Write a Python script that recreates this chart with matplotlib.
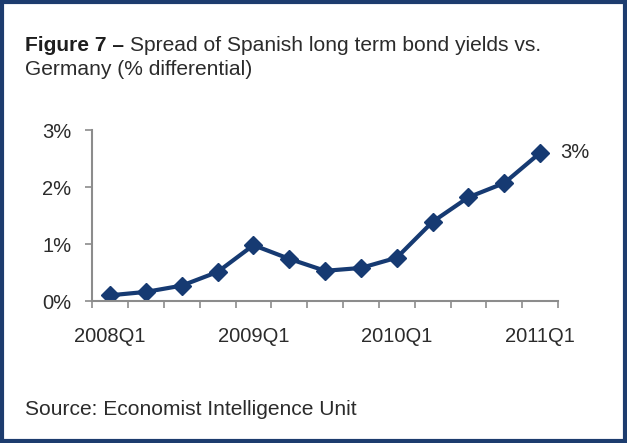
import numpy as np
from matplotlib import pyplot as plt
from matplotlib.patches import Rectangle

plt.rcParams['font.family'] = ['Liberation Sans', 'DejaVu Sans']

# Данные: спред доходности испанских облигаций к немецким, %
quarters = ['2008Q1', '2008Q2', '2008Q3', '2008Q4',
            '2009Q1', '2009Q2', '2009Q3', '2009Q4',
            '2010Q1', '2010Q2', '2010Q3', '2010Q4',
            '2011Q1']
spread = [0.10, 0.16, 0.27, 0.51, 0.98, 0.74, 0.53, 0.58,
          0.76, 1.39, 1.82, 2.07, 2.60]
shown_labels = ['2008Q1', '2009Q1', '2010Q1', '2011Q1']
y_ticks = [0, 1, 2, 3]

navy = '#163a72'
grey = '#8c8c8c'
text_col = '#2b2b2b'
fs = 14.5
fs_title = 15.1

fig = plt.figure(figsize=(6.27, 4.43), dpi=100)
ax = fig.add_axes([0.147, 0.3205, 0.743, 0.386])

x = np.arange(len(quarters))
ax.plot(x, spread, color=navy, lw=3, marker='D', ms=9, mec=navy, mfc=navy)

ax.set_xlim(-0.5, len(quarters) - 0.5)
ax.set_ylim(0, 3)
ax.set_yticks(y_ticks)
ax.set_yticklabels([f'{v}%' for v in y_ticks])

# Подписи только для первых кварталов каждого года
ax.set_xticks(x - 0.5, minor=False)
ax.set_xticks([len(quarters) - 0.5], minor=True)
ax.set_xticklabels([''] * len(quarters))
for q in shown_labels:
    i = quarters.index(q)
    ax.text(i, -0.45, q, ha='center', va='top', fontsize=fs,
            color=text_col)

ax.tick_params(axis='x', which='both', direction='out', length=5,
               color=grey, width=1.2)
ax.tick_params(axis='y', direction='out', length=5, color=grey,
               width=1.2, labelsize=fs, labelcolor=text_col, pad=10)

for side in ['top', 'right']:
    ax.spines[side].set_visible(False)
for side in ['left', 'bottom']:
    ax.spines[side].set_color(grey)
    ax.spines[side].set_linewidth(1.5)

ax.text(x[-1] + 0.55, spread[-1], '3%', ha='left', va='center',
        fontsize=fs, color=text_col)

head = fig.text(0.04, 0.898, 'Figure 7 –', fontsize=fs_title,
                fontweight='bold', color='#1e1e1e', va='center', ha='left')
fig.canvas.draw()
ax.annotate('Spread of Spanish long term bond yields vs.', xy=(1, 0.5),
            xycoords=head, xytext=(4, 0), textcoords='offset points',
            fontsize=fs_title, color=text_col, va='center', ha='left',
            annotation_clip=False)
fig.text(0.04, 0.842, 'Germany (% differential)', fontsize=fs_title,
         color=text_col, va='center', ha='left')
fig.text(0.04, 0.075, 'Source: Economist Intelligence Unit',
         fontsize=fs_title, color=text_col, va='center', ha='left')

fig.patches.append(Rectangle((0.003, 0.004), 0.994, 0.992,
                             transform=fig.transFigure, fill=False,
                             edgecolor='#1d3c6e', lw=3))

plt.savefig('out.png', dpi=100)
